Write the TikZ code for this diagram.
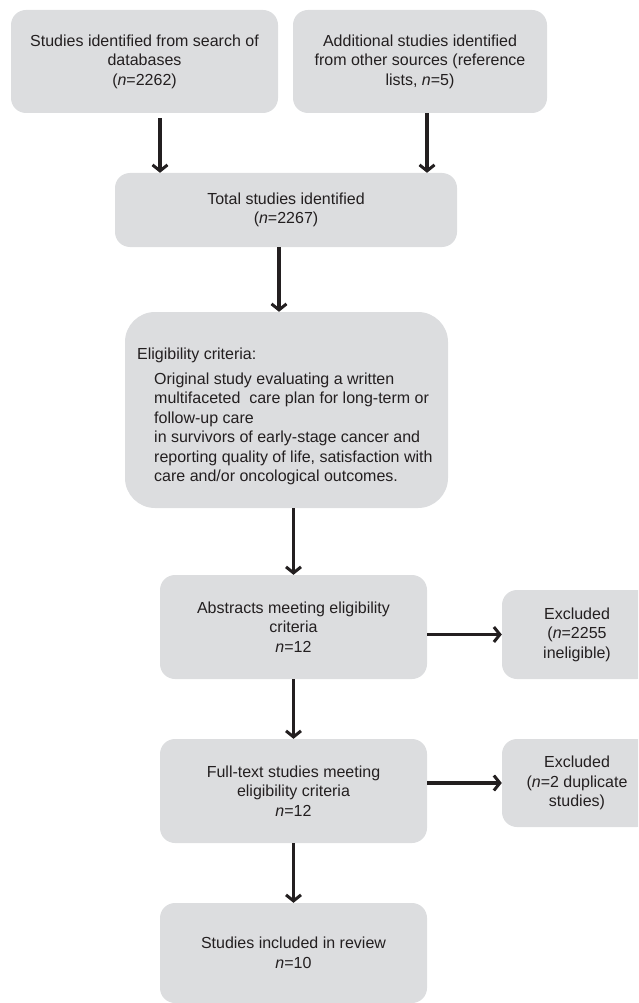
\documentclass[tikz,border=0pt]{standalone}
\usepackage{fontspec}
\setmainfont{Liberation Sans}
\usetikzlibrary{arrows.meta}
\definecolor{boxgray}{HTML}{DCDDDF}
\definecolor{ink}{HTML}{231F20}
\begin{document}
\begin{tikzpicture}[x=1pt,y=-1pt,
  box/.style={fill=boxgray, rounded corners=15pt, inner sep=0pt, align=center,
    text=ink, font=\fontsize{16}{19.5}\selectfont},
  arr/.style={draw=ink, line width=3.2pt,
    -{Straight Barb[length=6pt,width=15pt,line width=3pt]}}]
\useasboundingbox (0,0) rectangle (638,1003);
\clip (0,0) rectangle (638,1003);
% top row
\node[box, minimum width=267pt, minimum height=103pt] (b1) at (144.5,61.5)
  {Studies identified from search of\\databases\\(\textit{n}=2262)};
\node[box, minimum width=254pt, minimum height=103pt] (b2) at (420,61.5)
  {Additional studies identified\\from other sources (reference\\lists, \textit{n}=5)};
% total
\node[box, minimum width=342pt, minimum height=74pt] (total) at (286,210)
  {Total studies identified\\(\textit{n}=2267)};
% eligibility
\node[box, rounded corners=30pt, minimum width=323pt, minimum height=196pt] (elig) at (286.5,410) {};
\node[anchor=north west, align=left, inner sep=0pt, text=ink,
  font=\fontsize{16}{19.5}\selectfont] (eligtext) at (137,348)
  {Eligibility criteria:\\[5pt]
   \hspace*{17pt}Original study evaluating a written\\
   \hspace*{17pt}multifaceted\ \ care plan for long-term or\\
   \hspace*{17pt}follow-up care\\
   \hspace*{17pt}in survivors of early-stage cancer and\\
   \hspace*{17pt}reporting quality of life, satisfaction with\\
   \hspace*{17pt}care and/or oncological outcomes.};
% lower chain
\node[box, minimum width=267pt, minimum height=104pt] (abs) at (293.5,627)
  {Abstracts meeting eligibility\\criteria\\\textit{n}=12};
\node[box, minimum width=267pt, minimum height=104pt] (full) at (293.5,791)
  {Full-text studies meeting\\eligibility criteria\\\textit{n}=12};
\node[box, minimum width=267pt, minimum height=100pt] (incl) at (293.5,953)
  {Studies included in review\\\textit{n}=10};
% excluded
\node[box, minimum width=150pt, minimum height=89pt] (ex1) at (577,634.5)
  {Excluded\\(\textit{n}=2255\\ineligible)};
\node[box, minimum width=150pt, minimum height=88pt] (ex2) at (577,783)
  {Excluded\\(\textit{n}=2 duplicate\\studies)};
% connectors
\draw[arr, shorten <=5pt] ([xshift=15.5pt]b1.south) -- ([xshift=15.5pt]b1.south |- total.north);
\draw[arr] ([xshift=7pt]b2.south) -- ([xshift=7pt]b2.south |- total.north);
\draw[arr] ([xshift=-7pt]total.south) -- ([xshift=-7pt]total.south |- elig.north);
\draw[arr] (abs.north |- elig.south) -- (abs.north);
\draw[arr] (abs.south) -- (full.north);
\draw[arr] (full.south) -- (incl.north);
\draw[arr] (abs.east |- ex1.west) -- (ex1.west);
\draw[arr] (full.east |- ex2.west) -- (ex2.west);
\end{tikzpicture}
\end{document}
